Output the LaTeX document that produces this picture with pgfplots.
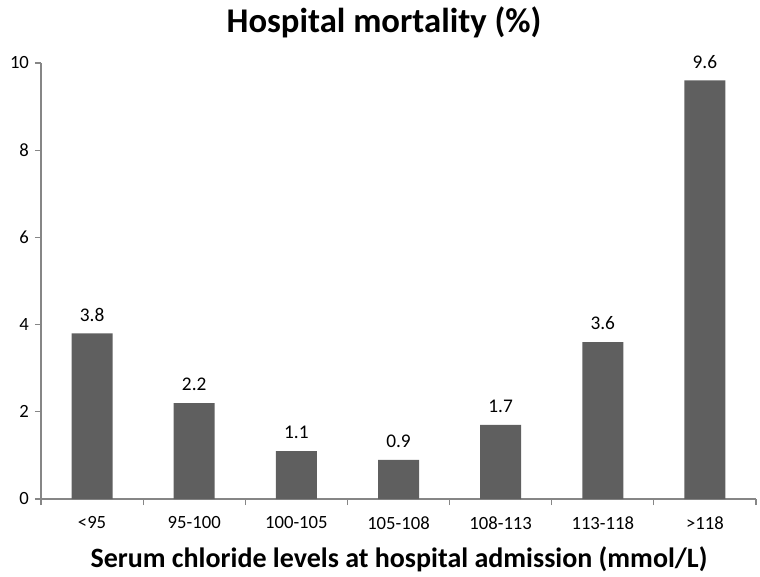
\documentclass[border=0pt]{standalone}
\usepackage{fontspec}
\setmainfont{Carlito}
\usepackage{pgfplots}
\pgfplotsset{compat=1.18}
\definecolor{barc}{HTML}{5F5F5F}
\definecolor{axc}{HTML}{868686}
\begin{document}
\begin{tikzpicture}[x=0.75pt,y=0.75pt]
\begin{axis}[
  at={(0,0)}, anchor=south west,
  scale only axis, width=536.25pt, height=327pt,
  xmin=-0.5, xmax=6.5, ymin=0, ymax=10,
  axis x line*=bottom, axis y line*=left,
  axis line style={axc, line width=0.8pt, -},
  ytick={0,2,...,10},
  xtick={0,...,6},
  xticklabels={<95,95-100,100-105,105-108,108-113,113-118,>118},
  minor xtick={-0.5,0.5,...,6.5},
  major x tick style={draw=none},
  minor x tick style={axc, line width=0.8pt},
  major y tick style={axc, line width=0.8pt},
  tick align=outside,
  major tick length=4.5pt, minor tick length=4.5pt,
  /pgf/number format/assume math mode=true,
  tick label style={font=\fontsize{14}{16}\selectfont, black},
  yticklabel style={xshift=-1pt},
  xticklabel style={yshift=-5pt},
  ybar, bar width=30.75pt,
  nodes near coords,
  every node near coord/.append style={font=\fontsize{14.5}{16}\selectfont, black, yshift=5.5pt,
    /pgf/number format/.cd, fixed, fixed zerofill, precision=1, assume math mode=true},
]
\addplot[fill=barc, draw=none] coordinates {(0,3.8) (1,2.2) (2,1.1) (3,0.9) (4,1.7) (5,3.6) (6,9.6)};
\end{axis}
\node[anchor=base, font=\fontsize{26}{30}\selectfont\bfseries] at (343,466) {Hospital mortality (\%)};
\node[anchor=base, font=\fontsize{21}{24}\selectfont\bfseries] at (358,-68) {Serum chloride levels at hospital admission (mmol/L)};
\pgfresetboundingbox
\path (-41,-77) rectangle (719,499);
\end{tikzpicture}
\end{document}
